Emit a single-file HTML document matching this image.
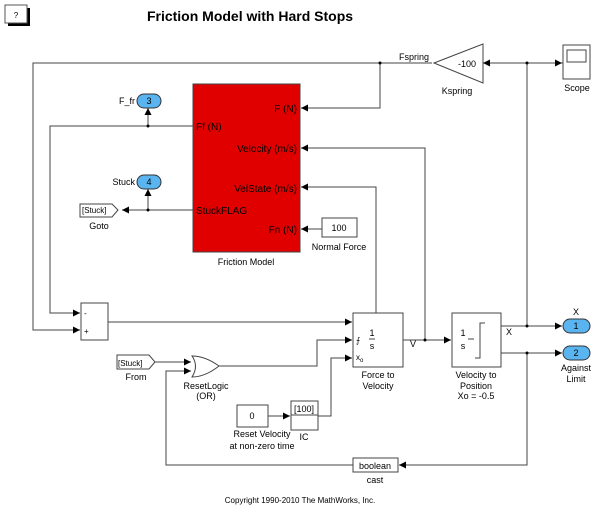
<!DOCTYPE html>
<html><head><style>
body{margin:0;background:#fff}
svg text{font-family:"Liberation Sans",sans-serif;font-size:9px;fill:#000}
</style></head><body>
<svg width="600" height="516" viewBox="0 0 600 516" xmlns="http://www.w3.org/2000/svg">
<defs>
<marker id="a" viewBox="0 0 10 10" refX="10" refY="5" markerWidth="7" markerHeight="7" orient="auto" markerUnits="userSpaceOnUse"><path d="M0,0L10,5L0,10z" fill="#000"/></marker>
</defs>
<!-- help -->
<rect x="8" y="8" width="22" height="18" fill="#000"/>
<rect x="5" y="5" width="22" height="18" fill="#fff" stroke="#555"/>
<text x="16" y="18" text-anchor="middle" style="font-size:8px">?</text>
<text x="250" y="21" text-anchor="middle" style="font-size:14px;font-weight:bold">Friction Model with Hard Stops</text>

<g fill="none" stroke="#444" stroke-width="1">
<!-- red block -->
<rect x="193" y="84" width="107" height="168" fill="#e00000" stroke="#444"/>
<!-- top Fspring line -->
<polyline points="432,63 33,63 33,330 80,330" marker-end="url(#a)"/>
<polyline points="380,63 380,108 301,108" marker-end="url(#a)"/>
<!-- Ff line -->
<polyline points="193,126 50,126 50,313 80,313" marker-end="url(#a)"/>
<polyline points="148,126 148,108" marker-end="url(#a)"/>
<!-- StuckFLAG -->
<polyline points="193,210 122,210" marker-end="url(#a)"/>
<polyline points="148,210 148,189" marker-end="url(#a)"/>
<!-- sum -->
<rect x="81" y="303" width="27" height="37"/>
<polyline points="108,322 352,322" marker-end="url(#a)"/>
<!-- Velocity feedback -->
<polyline points="425,340 425,148 301,148" marker-end="url(#a)"/>
<polyline points="376,313 376,187 301,187" marker-end="url(#a)"/>
<!-- normal force -->
<rect x="322" y="218" width="35" height="19"/>
<polyline points="322,229 301,229" marker-end="url(#a)"/>
<!-- Kspring -->
<polygon points="434,63 483,44 483,83"/>
<polyline points="563,63 483,63" marker-end="url(#a)"/>
<polyline points="527,63 562,63" marker-end="url(#a)"/>
<rect x="563" y="45" width="27" height="34"/>
<rect x="567" y="50" width="19" height="12"/>
<!-- force to velocity -->
<rect x="353" y="313" width="50" height="54"/>
<polyline points="403,340 451,340" marker-end="url(#a)"/>
<rect x="452" y="313" width="49" height="54"/>
<polyline points="475,358 480,358 480,323 485,323"/>
<line x1="468" y1="339" x2="474" y2="339"/>
<line x1="369" y1="339" x2="375" y2="339"/>
<!-- outputs -->
<polyline points="501,326 562,326" marker-end="url(#a)"/>
<polyline points="527,326 527,63"/>
<polyline points="501,353 562,353" marker-end="url(#a)"/>
<polyline points="527,353 527,465 399,465" marker-end="url(#a)"/>
<rect x="353" y="458" width="45" height="14"/>
<polyline points="353,465 166,465 166,371 191,371" marker-end="url(#a)"/>
<!-- from -->
<polygon points="117,355 149,355 155,362 149,369 117,369"/>
<polyline points="155,362 191,362" marker-end="url(#a)"/>
<!-- goto -->
<polygon points="80,204 112,204 118,210 112,217 80,217"/>
<!-- OR -->
<path d="M192,356 Q205,356 219,366 Q205,377 192,377 Q199,366 192,356z"/>
<polyline points="219,366 317,366 317,340 352,340" marker-end="url(#a)"/>
<!-- constant & IC -->
<rect x="237" y="405" width="31" height="22"/>
<polyline points="268,416 290,416" marker-end="url(#a)"/>
<rect x="291" y="401" width="27" height="29"/>
<line x1="291" y1="415" x2="318" y2="415"/>
<polyline points="318,416 331,416 331,358 352,358" marker-end="url(#a)"/>
</g>
<!-- junction dots -->
<g fill="#000">
<circle cx="380" cy="63" r="1.5"/><circle cx="148" cy="126" r="1.5"/><circle cx="148" cy="210" r="1.5"/>
<circle cx="425" cy="340" r="1.5"/><circle cx="527" cy="63" r="1.5"/><circle cx="527" cy="326" r="1.5"/><circle cx="527" cy="353" r="1.5"/>
</g>
<!-- ports -->
<g fill="#5ab4f0" stroke="#333">
<rect x="137" y="94" width="24" height="14" rx="7"/>
<rect x="137" y="175" width="24" height="14" rx="7"/>
<rect x="563" y="319" width="27" height="14" rx="7"/>
<rect x="563" y="346" width="27" height="14" rx="7"/>
</g>
<text x="149" y="104" text-anchor="middle">3</text>
<text x="149" y="185" text-anchor="middle">4</text>
<text x="576" y="329" text-anchor="middle">1</text>
<text x="576" y="356" text-anchor="middle">2</text>
<text x="135" y="104" text-anchor="end">F_fr</text>
<text x="135" y="185" text-anchor="end">Stuck</text>
<text x="576" y="315" text-anchor="middle">X</text>
<text x="576" y="371" text-anchor="middle">Against</text>
<text x="576" y="382" text-anchor="middle">Limit</text>
<!-- red labels -->
<g style="font-size:10px">
<text x="297" y="112" text-anchor="end" style="font-size:10px">F (N)</text>
<text x="196" y="130" style="font-size:10px">Ff (N)</text>
<text x="297" y="152" text-anchor="end" style="font-size:10px">Velocity (m/s)</text>
<text x="297" y="192" text-anchor="end" style="font-size:10px">VelState (m/s)</text>
<text x="196" y="214" style="font-size:10px">StuckFLAG</text>
<text x="297" y="233" text-anchor="end" style="font-size:10px">Fn (N)</text>
</g>
<text x="246" y="265" text-anchor="middle">Friction Model</text>
<text x="339" y="231" text-anchor="middle">100</text>
<text x="339" y="250" text-anchor="middle">Normal Force</text>
<text x="414" y="60" text-anchor="middle">Fspring</text>
<text x="467" y="67" text-anchor="middle">-100</text>
<text x="457" y="94" text-anchor="middle">Kspring</text>
<text x="577" y="91" text-anchor="middle">Scope</text>
<text x="99" y="229" text-anchor="middle">Goto</text>
<text x="82" y="213" style="font-size:8px">[Stuck]</text>
<text x="118" y="366" style="font-size:8px">[Stuck]</text>
<text x="136" y="380" text-anchor="middle">From</text>
<text x="84" y="316" style="font-size:8px">-</text>
<text x="84" y="334" style="font-size:8px">+</text>
<text x="206" y="389" text-anchor="middle">ResetLogic</text>
<text x="206" y="399" text-anchor="middle">(OR)</text>
<text x="252" y="419" text-anchor="middle">0</text>
<text x="262" y="437" text-anchor="middle">Reset Velocity</text>
<text x="262" y="449" text-anchor="middle">at non-zero time</text>
<text x="304" y="412" text-anchor="middle">[100]</text>
<text x="304" y="440" text-anchor="middle">IC</text>
<text x="372" y="336" text-anchor="middle">1</text>
<text x="372" y="349" text-anchor="middle">s</text>
<text x="356" y="343" style="font-size:8px">⨍</text>
<text x="356" y="360" style="font-size:8px">x<tspan style="font-size:6px" dy="2">o</tspan></text>
<text x="378" y="378" text-anchor="middle">Force to</text>
<text x="378" y="389" text-anchor="middle">Velocity</text>
<text x="410" y="347">V</text>
<text x="463" y="336" text-anchor="middle">1</text>
<text x="463" y="349" text-anchor="middle">s</text>
<text x="506" y="335">X</text>
<text x="476" y="378" text-anchor="middle">Velocity to</text>
<text x="476" y="389" text-anchor="middle">Position</text>
<text x="476" y="399" text-anchor="middle">Xo = -0.5</text>
<text x="375" y="469" text-anchor="middle">boolean</text>
<text x="375" y="483" text-anchor="middle">cast</text>
<text x="300" y="503" text-anchor="middle" style="font-size:8px">Copyright 1990-2010 The MathWorks, Inc.</text>
</svg>
</body></html>
